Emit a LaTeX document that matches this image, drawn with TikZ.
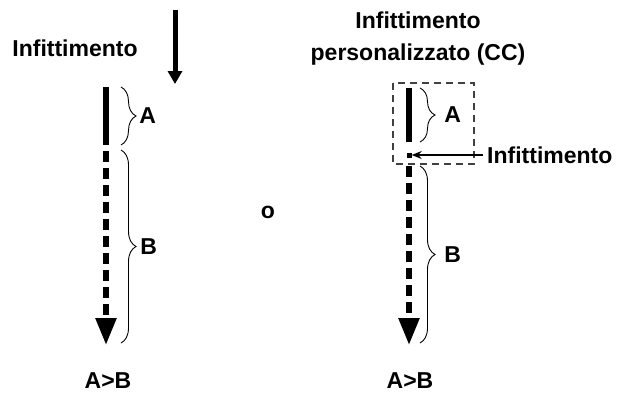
\documentclass[tikz,border=0pt]{standalone}
\usepackage{fontspec}
\setmainfont{Liberation Sans}
\usetikzlibrary{arrows.meta,positioning,decorations.pathreplacing}
\definecolor{boxgrey}{HTML}{404040}

\begin{document}
\begin{tikzpicture}[
  x=1pt, y=-1pt,
  lbl/.style={font=\fontsize{23}{27}\selectfont\bfseries, inner sep=0pt, align=center},
  bar/.style={line width=5.5pt, black},
  flow/.style={line width=5.5pt, black, dash pattern=on 11pt off 6pt,
               -{Triangle[length=27pt,width=20pt]}},
  brc/.style={decorate, decoration={brace, amplitude=15pt}, line width=0.9pt},
  cbox/.style={draw=boxgrey, line width=1.2pt, dash pattern=on 7pt off 5pt},
]
  \useasboundingbox (0,0) rectangle (618,394);

  %% Left: infittimento from above
  \node[lbl] (inf1) at (75,48) {Infittimento};
  \coordinate (ins1) at (175,10);
  \coordinate (ins2) at (175,84);
  \draw[line width=5pt, -{Triangle[length=13pt,width=14pt]}] (ins1) -- (ins2);

  \coordinate (la1) at (106,87);
  \coordinate (la2) at (106,145);
  \coordinate (lb1) at (106,151);
  \coordinate (lb2) at (106,345);
  \draw[bar] (la1) -- (la2);
  \draw[flow] (lb1) -- (lb2);

  \draw[brc] (121,87) -- (121,145) node[lbl, midway, right=18pt] (lA) {A};
  \draw[brc] (121,150) -- (121,343) node[lbl, midway, right=19pt] (lB) {B};
  \node[lbl, anchor=base] (lres) at (108,388) {A>B};

  %% Middle
  \node[lbl] (or) at (268,212) {o};

  %% Right: custom infittimento (CC)
  \node[lbl] (inf2) at (418,39) {Infittimento\\[5pt]personalizzato (CC)};
  \draw[cbox] (393,83) rectangle (474,164);

  \coordinate (ra1) at (409,88);
  \coordinate (ra2) at (409,142);
  \coordinate (rb1) at (409,166);
  \coordinate (rb2) at (409,345);
  \draw[bar] (ra1) -- (ra2);
  \node[fill=black, minimum size=5pt, inner sep=0pt] (dot) at (409,155) {};
  \draw[flow] (rb1) -- (rb2);

  \node[lbl, anchor=west] (inf3) at (487,155) {Infittimento};
  \draw[line width=1.3pt, -{Stealth[length=10pt,width=8pt]}] (inf3.west) ++(-4,0) -- (dot.east);

  \draw[brc] (420,88) -- (420,142) node[lbl, midway, right=24pt] (rA) {A};
  \draw[brc] (420,166) -- (420,343) node[lbl, midway, right=24pt] (rB) {B};
  \node[lbl, anchor=base] (rres) at (410,388) {A>B};
\end{tikzpicture}
\end{document}
